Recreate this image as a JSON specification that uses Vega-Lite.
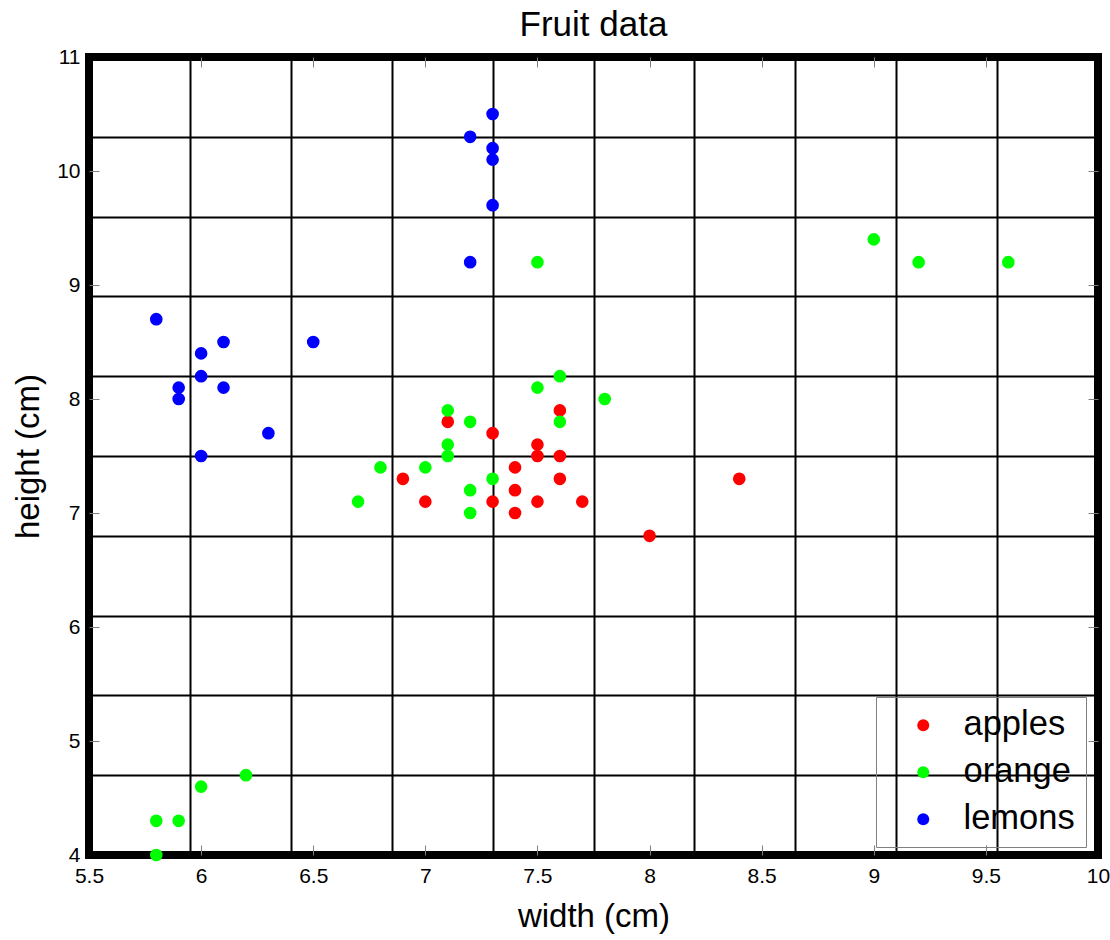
{
  "$schema": "https://vega.github.io/schema/vega-lite/v6.json",
  "autosize": "none",
  "width": 1009,
  "height": 798,
  "padding": {"left": 89, "top": 57, "right": 12, "bottom": 85},
  "background": "white",
  "view": {"stroke": "black", "strokeWidth": 8, "fill": null},
  "title": {"text": "Fruit data", "fontSize": 35, "font": "Liberation Sans", "fontWeight": "normal", "color": "black", "anchor": "middle", "offset": 3, "dy": 28, "baseline": "alphabetic"},
  "config": {
    "axis": {"labelFont": "Liberation Sans", "titleFont": "Liberation Sans", "labelColor": "black", "titleColor": "black", "titleFontWeight": "normal", "labelFlush": false, "labelOverlap": false},
    "legend": {"labelFont": "Liberation Sans"}
  },
  "data": {"values": [
    {"fruit": "apples", "width": 6.9, "height": 7.3},
    {"fruit": "apples", "width": 7.0, "height": 7.1},
    {"fruit": "apples", "width": 7.1, "height": 7.8},
    {"fruit": "apples", "width": 7.3, "height": 7.7},
    {"fruit": "apples", "width": 7.3, "height": 7.1},
    {"fruit": "apples", "width": 7.4, "height": 7.4},
    {"fruit": "apples", "width": 7.4, "height": 7.2},
    {"fruit": "apples", "width": 7.4, "height": 7.0},
    {"fruit": "apples", "width": 7.5, "height": 7.6},
    {"fruit": "apples", "width": 7.5, "height": 7.5},
    {"fruit": "apples", "width": 7.5, "height": 7.1},
    {"fruit": "apples", "width": 7.6, "height": 7.9},
    {"fruit": "apples", "width": 7.6, "height": 7.5},
    {"fruit": "apples", "width": 7.6, "height": 7.3},
    {"fruit": "apples", "width": 7.7, "height": 7.1},
    {"fruit": "apples", "width": 8.0, "height": 6.8},
    {"fruit": "apples", "width": 8.4, "height": 7.3},
    {"fruit": "orange", "width": 5.8, "height": 4.0},
    {"fruit": "orange", "width": 5.8, "height": 4.3},
    {"fruit": "orange", "width": 5.9, "height": 4.3},
    {"fruit": "orange", "width": 6.0, "height": 4.6},
    {"fruit": "orange", "width": 6.2, "height": 4.7},
    {"fruit": "orange", "width": 6.7, "height": 7.1},
    {"fruit": "orange", "width": 6.8, "height": 7.4},
    {"fruit": "orange", "width": 7.0, "height": 7.4},
    {"fruit": "orange", "width": 7.1, "height": 7.9},
    {"fruit": "orange", "width": 7.1, "height": 7.6},
    {"fruit": "orange", "width": 7.1, "height": 7.5},
    {"fruit": "orange", "width": 7.2, "height": 7.8},
    {"fruit": "orange", "width": 7.2, "height": 7.2},
    {"fruit": "orange", "width": 7.2, "height": 7.0},
    {"fruit": "orange", "width": 7.3, "height": 7.3},
    {"fruit": "orange", "width": 7.5, "height": 9.2},
    {"fruit": "orange", "width": 7.5, "height": 8.1},
    {"fruit": "orange", "width": 7.6, "height": 8.2},
    {"fruit": "orange", "width": 7.6, "height": 7.8},
    {"fruit": "orange", "width": 7.8, "height": 8.0},
    {"fruit": "orange", "width": 9.0, "height": 9.4},
    {"fruit": "orange", "width": 9.2, "height": 9.2},
    {"fruit": "orange", "width": 9.6, "height": 9.2},
    {"fruit": "lemons", "width": 7.3, "height": 10.5},
    {"fruit": "lemons", "width": 7.2, "height": 10.3},
    {"fruit": "lemons", "width": 7.3, "height": 10.2},
    {"fruit": "lemons", "width": 7.3, "height": 10.1},
    {"fruit": "lemons", "width": 7.3, "height": 9.7},
    {"fruit": "lemons", "width": 7.2, "height": 9.2},
    {"fruit": "lemons", "width": 5.8, "height": 8.7},
    {"fruit": "lemons", "width": 6.0, "height": 8.4},
    {"fruit": "lemons", "width": 6.1, "height": 8.5},
    {"fruit": "lemons", "width": 6.5, "height": 8.5},
    {"fruit": "lemons", "width": 5.9, "height": 8.1},
    {"fruit": "lemons", "width": 5.9, "height": 8.0},
    {"fruit": "lemons", "width": 6.0, "height": 8.2},
    {"fruit": "lemons", "width": 6.1, "height": 8.1},
    {"fruit": "lemons", "width": 6.3, "height": 7.7},
    {"fruit": "lemons", "width": 6.0, "height": 7.5}
  ]},
  "resolve": {"axis": {"x": "independent", "y": "independent"}},
  "layer": [
    {
      "mark": {"type": "point", "opacity": 0},
      "encoding": {
        "x": {"field": "width", "type": "quantitative", "scale": {"domain": [5.5, 10], "nice": false, "zero": false},
          "axis": {"orient": "bottom", "values": [5.95, 6.4, 6.85, 7.3, 7.75, 8.2, 8.65, 9.1, 9.55], "grid": true, "gridColor": "black", "gridWidth": 2, "gridOpacity": 1, "labels": false, "ticks": false, "domain": false, "title": null}},
        "y": {"field": "height", "type": "quantitative", "scale": {"domain": [4, 11], "nice": false, "zero": false},
          "axis": {"orient": "left", "values": [4.7, 5.4, 6.1, 6.8, 7.5, 8.2, 8.9, 9.6, 10.3], "grid": true, "gridColor": "black", "gridWidth": 2, "gridOpacity": 1, "labels": false, "ticks": false, "domain": false, "title": null}}
      }
    },
    {
      "mark": {"type": "point", "opacity": 0},
      "encoding": {
        "x": {"field": "width", "type": "quantitative",
          "axis": {"orient": "bottom", "values": [6, 6.5, 7, 7.5, 8, 8.5, 9, 9.5], "offset": -10, "tickSize": 10, "tickColor": "#808080", "tickWidth": 1, "labels": false, "domain": false, "grid": false, "title": null}},
        "y": {"field": "height", "type": "quantitative",
          "axis": {"orient": "left", "values": [5, 6, 7, 8, 9, 10], "offset": -10, "tickSize": 10, "tickColor": "#808080", "tickWidth": 1, "labels": false, "domain": false, "grid": false, "title": null}}
      }
    },
    {
      "mark": {"type": "point", "opacity": 0},
      "encoding": {
        "x": {"field": "width", "type": "quantitative",
          "axis": {"orient": "top", "values": [6, 6.5, 7, 7.5, 8, 8.5, 9, 9.5], "offset": -10, "tickSize": 10, "tickColor": "#808080", "tickWidth": 1, "labels": false, "domain": false, "grid": false, "title": null}},
        "y": {"field": "height", "type": "quantitative",
          "axis": {"orient": "right", "values": [5, 6, 7, 8, 9, 10], "offset": -10, "tickSize": 10, "tickColor": "#808080", "tickWidth": 1, "labels": false, "domain": false, "grid": false, "title": null}}
      }
    },
    {
      "mark": {"type": "point", "filled": true, "opacity": 1, "size": 160, "shape": "circle"},
      "encoding": {
        "x": {"field": "width", "type": "quantitative",
          "axis": {"orient": "bottom", "values": [5.5, 6, 6.5, 7, 7.5, 8, 8.5, 9, 9.5, 10], "format": "~g", "grid": false, "ticks": false, "domain": false, "labelPadding": 10, "labelFontSize": 21, "title": "width (cm)", "titleFontSize": 33, "titleY": 71, "titleBaseline": "alphabetic"}},
        "y": {"field": "height", "type": "quantitative",
          "axis": {"orient": "left", "values": [4, 5, 6, 7, 8, 9, 10, 11], "format": "~g", "grid": false, "ticks": false, "domain": false, "labelPadding": 9, "labelFontSize": 21, "title": "height (cm)", "titleFontSize": 33, "titleX": -51, "titleBaseline": "alphabetic"}},
        "color": {"field": "fruit", "type": "nominal",
          "scale": {"domain": ["apples", "orange", "lemons"], "range": ["#ff0000", "#00ff00", "#0000ff"]},
          "legend": {"orient": "none", "legendX": 787, "legendY": 640, "title": null, "padding": 11, "symbolOffset": 19, "labelOffset": 23, "rowPadding": 12, "labelFontSize": 34.5, "labelColor": "black", "symbolSize": 144, "symbolType": "circle", "symbolStrokeWidth": 0, "strokeColor": "#808080"}}
      }
    }
  ]
}
